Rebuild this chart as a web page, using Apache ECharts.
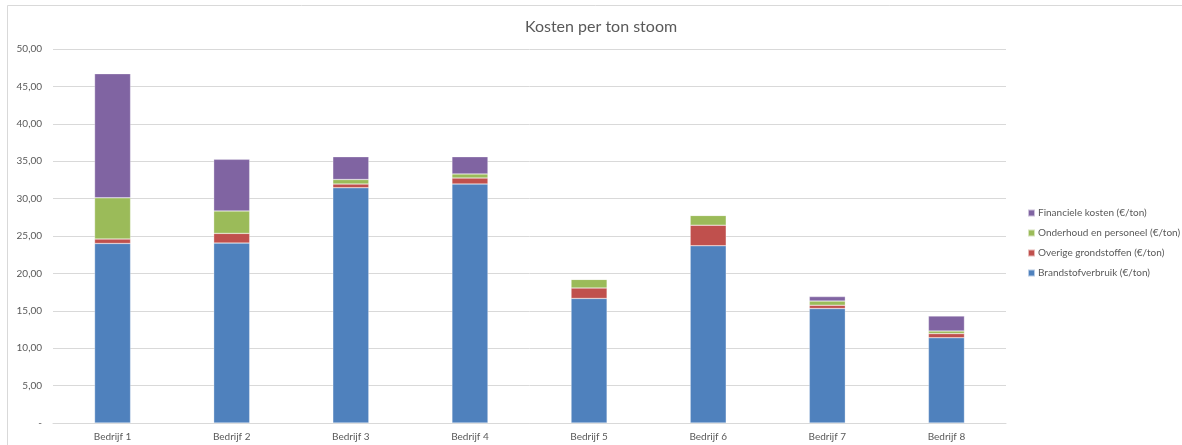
<!DOCTYPE html>
<html lang="nl">
<head>
    <meta charset="UTF-8">
    <title>Kosten per ton stoom</title>
    <script src="https://cdn.jsdelivr.net/npm/echarts@6/dist/echarts.min.js"></script>
    <style>
        html, body { margin: 0; padding: 0; background: #ffffff; }
        #chart { width: 1182px; height: 445px; }
    </style>
</head>
<body>
<div id="chart"></div>
<script>
    // gegevens
    var categories = ['Bedrijf 1', 'Bedrijf 2', 'Bedrijf 3', 'Bedrijf 4', 'Bedrijf 5', 'Bedrijf 6', 'Bedrijf 7', 'Bedrijf 8'];
    var brandstof = [24.0, 24.05, 31.45, 31.95, 16.65, 23.7, 15.3, 11.4];
    var grondstoffen = [0.6, 1.3, 0.5, 0.8, 1.4, 2.75, 0.45, 0.55];
    var onderhoud = [5.5, 3.0, 0.6, 0.55, 1.15, 1.3, 0.55, 0.35];
    var financieel = [16.6, 6.9, 3.05, 2.3, 0, 0, 0.6, 2.0];
    var seriesNames = ['Brandstofverbruik (€/ton)', 'Overige grondstoffen (€/ton)', 'Onderhoud en personeel (€/ton)', 'Financiele kosten (€/ton)'];
    var colors = ['#4F81BD', '#C0504D', '#9BBB59', '#8064A2'];

    var fontName = 'Lato';
    var txt = '#595959';

    function bar(i, data) {
        return {
            name: seriesNames[i],
            type: 'bar',
            stack: 'kosten',
            barWidth: 36,
            data: data,
            itemStyle: { color: colors[i], borderColor: 'rgba(255,255,255,0.6)', borderWidth: 0.5 }
        };
    }

    var myChart = echarts.init(document.getElementById('chart'));
    var option = {
        backgroundColor: '#ffffff',
        animation: false,
        textStyle: { fontFamily: fontName },
        graphic: [{
            type: 'rect',
            shape: { x: 7.5, y: 5.5, width: 1190, height: 460 },
            style: { fill: 'none', stroke: '#d9d9d9', lineWidth: 1 },
            silent: true
        }],
        title: {
            text: 'Kosten per ton stoom',
            left: 596,
            textAlign: 'center',
            top: 14,
            textStyle: { color: txt, fontSize: 16, fontWeight: 'normal', fontFamily: fontName }
        },
        legend: {
            orient: 'vertical',
            left: 1022,
            top: 203,
            itemWidth: 7,
            itemHeight: 7,
            itemGap: 10,
            icon: 'rect',
            data: [seriesNames[3], seriesNames[2], seriesNames[1], seriesNames[0]],
            textStyle: { color: txt, fontSize: 10, fontFamily: fontName, padding: [0, 0, 0, -2] }
        },
        grid: { left: 53, right: 176, top: 49, bottom: 22, containLabel: false },
        xAxis: {
            type: 'category',
            data: categories,
            axisLine: { lineStyle: { color: '#d9d9d9' } },
            axisTick: { show: false },
            axisLabel: { color: txt, fontSize: 10, margin: 9 }
        },
        yAxis: {
            type: 'value',
            min: 0,
            max: 50,
            interval: 5,
            axisLine: { show: false },
            axisTick: { show: false },
            splitLine: { lineStyle: { color: '#d9d9d9' } },
            axisLabel: {
                color: txt,
                fontSize: 10,
                margin: 11,
                formatter: function (v) { return v === 0 ? '-' : v.toFixed(2).replace('.', ','); }
            }
        },
        series: [bar(0, brandstof), bar(1, grondstoffen), bar(2, onderhoud), bar(3, financieel)]
    };
    myChart.setOption(option);
</script>
</body>
</html>
